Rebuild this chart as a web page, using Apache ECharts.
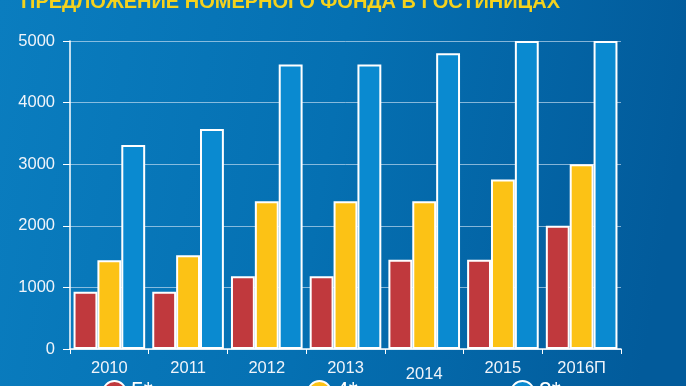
<!DOCTYPE html>
<html><head><meta charset="utf-8">
<script src="https://cdn.jsdelivr.net/npm/echarts@6/dist/echarts.min.js"></script>
<style>html,body{margin:0;padding:0;}#c{width:686px;height:386px;}</style>
</head><body><div id="c"></div>
<script>
const titleText = 'ПРЕДЛОЖЕНИЕ НОМЕРНОГО ФОНДА В ГОСТИНИЦАХ';
const categories = ['2010','2011','2012','2013','2014','2015','2016П'];
const seriesNames = ['5*','4*','3*'];
const fiveStar = [930, 930, 1180, 1180, 1450, 1450, 2000];
const fourStar = [1440, 1520, 2400, 2400, 2400, 2750, 3000];
const threeStar = [3310, 3570, 4620, 4620, 4800, 5000, 5000];
const yTicks = [0, 1000, 2000, 3000, 4000, 5000];

const colors = ['#c0393d', '#fcc215', '#0a8ad0'];
const chart = echarts.init(document.getElementById('c'));
const font = 'Arial, "Liberation Sans", sans-serif';
const mk = (name, data, color) => ({
  name, type: 'bar', data,
  barGap: '0%', barCategoryGap: '9%',
  itemStyle: { color, borderColor: '#ffffff', borderWidth: 2 },
  emphasis: { disabled: true }
});
const legendAt = (i, left) => ({
  data: [{ name: seriesNames[i], itemStyle: i === 2 ? { color: colors[2], borderColor: '#ffffff', borderWidth: 2 } : { color: colors[i] } }],
  left, top: 375, icon: 'circle', itemWidth: 23, itemHeight: 23, itemGap: 8,
  textStyle: { color: '#ffffff', fontSize: 23, fontFamily: font }
});
chart.setOption({
  backgroundColor: {
    type: 'linear', x: 0, y: 0, x2: 1, y2: 0.3,
    colorStops: [{ offset: 0, color: '#0a7dbf' }, { offset: 0.5, color: '#0570b2' }, { offset: 1, color: '#025b9b' }]
  },
  animation: false,
  title: {
    text: titleText, left: 16, top: -13,
    textStyle: { color: '#f5d21c', fontSize: 20, fontWeight: 'bold', fontFamily: font }
  },
  legend: [legendAt(0, 97), legendAt(1, 302), legendAt(2, 505)],
  grid: { left: 70, right: 65, top: 41, bottom: 37 },
  xAxis: {
    type: 'category', data: categories.map(c => c === '2014' ? { value: c, textStyle: { padding: [6, 0, 0, 0] } } : c),
    axisLine: { lineStyle: { color: '#ffffff', width: 1.5 } },
    axisTick: { show: true, length: 5, lineStyle: { color: '#ffffff' } },
    axisLabel: { color: '#f0f4fa', fontSize: 16.5, fontFamily: font, margin: 11 }
  },
  yAxis: {
    type: 'value', min: 0, max: 5000, interval: 1000,
    axisLine: { show: true, lineStyle: { color: '#ffffff', width: 1.5 } },
    axisTick: { show: true, length: 7, lineStyle: { color: '#ffffff' } },
    axisLabel: { color: '#f0f4fa', fontSize: 16.5, fontFamily: font, margin: 15,
      formatter: v => yTicks.includes(v) ? String(v) : '' },
    splitLine: { lineStyle: { color: 'rgba(220,235,250,0.6)', width: 1 } }
  },
  series: [mk(seriesNames[0], fiveStar, colors[0]), mk(seriesNames[1], fourStar, colors[1]), mk(seriesNames[2], threeStar, colors[2])]
});
</script></body></html>
